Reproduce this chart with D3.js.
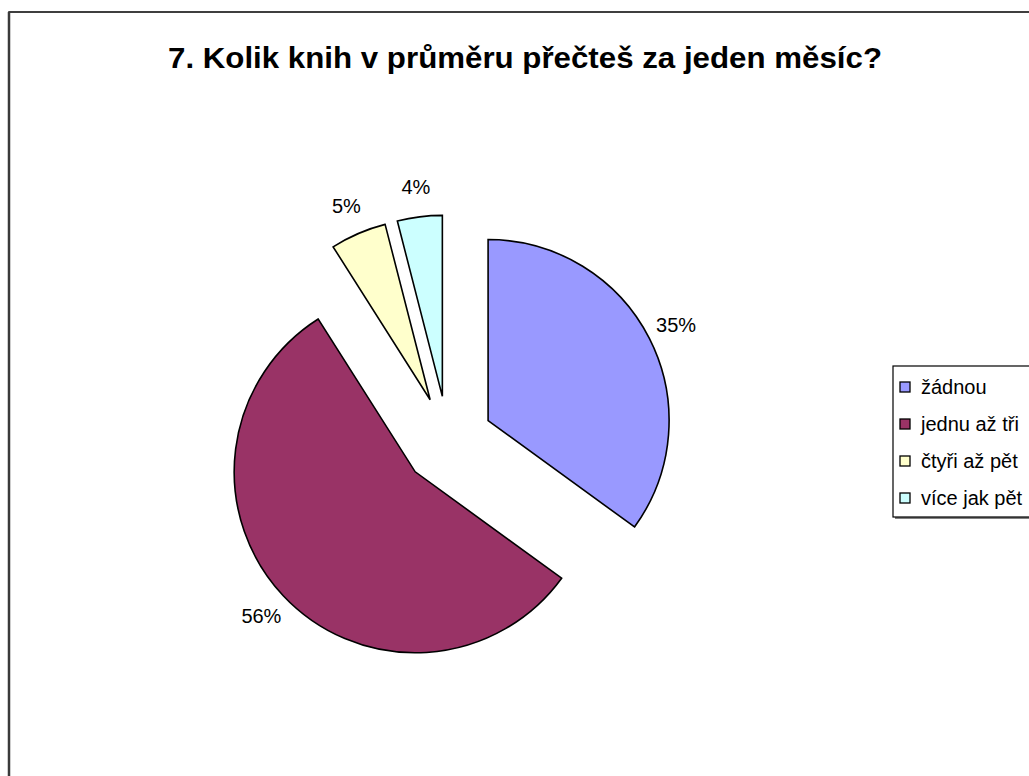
<!DOCTYPE html>
<html>
<head>
<meta charset="utf-8">
<script src="https://cdn.jsdelivr.net/npm/d3@7"></script>
<style>
  html, body { margin: 0; padding: 0; background: #ffffff; }
  svg { display: block; }
  text { font-family: "Liberation Sans", Arial, sans-serif; }
</style>
</head>
<body>
<svg id="chart" width="1029" height="776"></svg>
<script>
// ---- data ----
const title = "7. Kolik knih v průměru přečteš za jeden měsíc?";
const categories = ["žádnou", "jednu až tři", "čtyři až pět", "více jak pět"];
const values = [35, 56, 5, 4];
const colors = ["#9999FF", "#993366", "#FFFFCC", "#CCFFFF"];

// ---- layout ----
const W = 1029, H = 776;
const cx = 448, cy = 441, radius = 181, explode = 45, labelRadius = 256;

const svg = d3.select("#chart");

// chart area border (extends beyond the window on right/bottom)
svg.append("rect")
  .attr("x", 9).attr("y", 12)
  .attr("width", 1040).attr("height", 800)
  .attr("fill", "#ffffff")
  .attr("stroke", "#000000")
  .attr("stroke-width", 1.5);
svg.append("line")
  .attr("x1", 9).attr("x2", 9).attr("y1", 12).attr("y2", H)
  .attr("stroke", "#3a3a3a").attr("stroke-width", 2.5);

// title
svg.append("text")
  .attr("x", 525).attr("y", 68)
  .attr("text-anchor", "middle")
  .attr("font-size", 30)
  .attr("font-weight", "bold")
  .attr("textLength", 714)
  .attr("lengthAdjust", "spacingAndGlyphs")
  .attr("fill", "#000")
  .text(title);

// pie
const total = d3.sum(values);
const pie = d3.pie().sort(null).value(d => d)(values);
const arc = d3.arc().innerRadius(0).outerRadius(radius);

const g = svg.append("g").attr("transform", `translate(${cx},${cy})`);

g.selectAll("path.slice")
  .data(pie)
  .join("path")
  .attr("class", "slice")
  .attr("d", arc)
  .attr("transform", d => {
    const a = (d.startAngle + d.endAngle) / 2;
    return `translate(${explode * Math.sin(a)},${-explode * Math.cos(a)})`;
  })
  .attr("fill", (d, i) => colors[i])
  .attr("stroke", "#000")
  .attr("stroke-width", 1.6)
  .attr("stroke-linejoin", "miter");

// data labels
g.selectAll("text.lbl")
  .data(pie)
  .join("text")
  .attr("class", "lbl")
  .attr("x", d => labelRadius * Math.sin((d.startAngle + d.endAngle) / 2))
  .attr("y", d => -labelRadius * Math.cos((d.startAngle + d.endAngle) / 2))
  .attr("dy", "0.35em")
  .attr("text-anchor", "middle")
  .attr("font-size", 20)
  .attr("fill", "#000")
  .text(d => Math.round(d.value / total * 100) + "%");

// legend
const legX = 893, legY = 366, legH = 151;
svg.append("rect")
  .attr("x", legX + 2).attr("y", legY + 2)
  .attr("width", 200).attr("height", legH)
  .attr("fill", "#808080");
svg.append("rect")
  .attr("x", legX).attr("y", legY)
  .attr("width", 200).attr("height", legH)
  .attr("fill", "#ffffff")
  .attr("stroke", "#000")
  .attr("stroke-width", 1.2);

const legScale = d3.scalePoint()
  .domain(categories)
  .range([legY + 21, legY + 132]);

const leg = svg.append("g").selectAll("g")
  .data(categories)
  .join("g")
  .attr("transform", d => `translate(${legX}, ${legScale(d)})`);

leg.append("rect")
  .attr("x", 7).attr("y", -5)
  .attr("width", 10).attr("height", 10)
  .attr("fill", (d, i) => colors[i])
  .attr("stroke", "#000")
  .attr("stroke-width", 1.3);

leg.append("text")
  .attr("x", 28)
  .attr("dy", "0.35em")
  .attr("font-size", 20)
  .attr("fill", "#000")
  .text(d => d);
</script>
</body>
</html>
